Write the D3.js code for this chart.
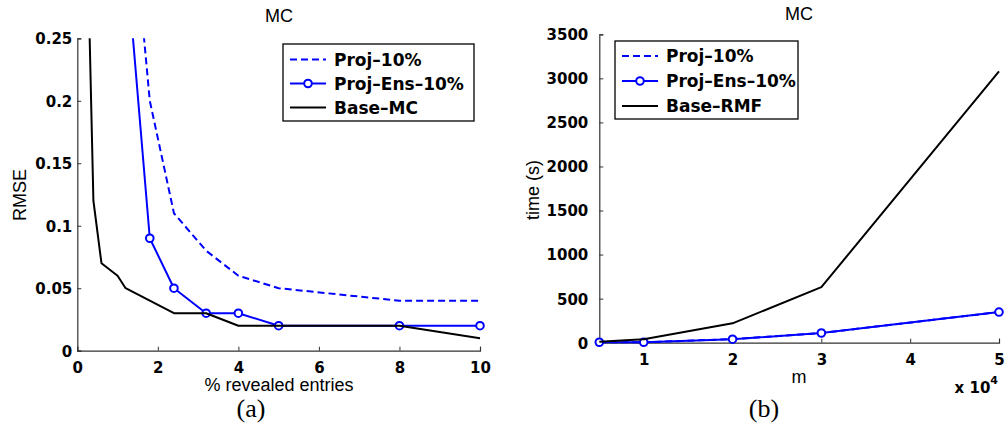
<!DOCTYPE html>
<html>
<head>
<meta charset="utf-8">
<script src="https://cdn.jsdelivr.net/npm/d3@7/dist/d3.min.js"></script>
<style>
  html, body { margin: 0; padding: 0; background: #fff; }
  svg { display: block; }
  .tick-label { font-family: "DejaVu Sans", sans-serif; font-weight: bold; font-size: 15px; fill: #000; }
  .legend-text { font-family: "DejaVu Sans", sans-serif; font-weight: bold; font-size: 17px; fill: #000; }
  .axis-label { font-family: "Liberation Sans", Arial, sans-serif; font-size: 18px; fill: #000; }
  .caption { font-family: "Liberation Serif", "Times New Roman", serif; font-size: 26px; fill: #000; }
</style>
</head>
<body>
<div id="chart"></div>
<script>
// panel (a): RMSE vs % revealed entries
const pctProj = [1.2, 1.8, 2.4, 3.2, 4, 5, 8, 10];
const rmseProj = [0.41, 0.2, 0.11, 0.08, 0.06, 0.05, 0.04, 0.04];
const pctEns = [1.2, 1.8, 2.4, 3.2, 4, 5, 8, 10];
const rmseEns = [0.32, 0.09, 0.05, 0.03, 0.03, 0.02, 0.02, 0.02];
const pctBase = [0.3, 0.4, 0.6, 1, 1.2, 2.4, 3.2, 4, 5, 8, 10];
const rmseBase = [0.26, 0.12, 0.07, 0.06, 0.05, 0.03, 0.03, 0.02, 0.02, 0.02, 0.01];
const pctTicks = [0, 2, 4, 6, 8, 10];
const rmseTicks = [0, 0.05, 0.1, 0.15, 0.2, 0.25];
const legendA = ['Proj\u201310%', 'Proj\u2013Ens\u201310%', 'Base\u2013MC'];

// panel (b): time vs m (x 10^4)
const mVals = [0.5, 1, 2, 3, 5];
const timeProj = [5, 5, 40, 110, 348];
const timeEns = [5, 5, 40, 110, 348];
const timeBase = [12, 40, 220, 630, 3080];
const mTicks = [1, 2, 3, 4, 5];
const timeTicks = [0, 500, 1000, 1500, 2000, 2500, 3000, 3500];
const legendB = ['Proj\u201310%', 'Proj\u2013Ens\u201310%', 'Base\u2013RMF'];

const BLUE = '#0000ff';
const BLACK = '#000000';

const svg = d3.select('#chart').append('svg')
  .attr('width', 1007)
  .attr('height', 434);

function drawPanel(p) {
  const x = d3.scaleLinear().domain(p.xDomain).range([p.left, p.right]);
  const y = d3.scaleLinear().domain(p.yDomain).range([p.bottom, p.top]);
  const g = svg.append('g');

  g.append('clipPath').attr('id', p.id + '-clip')
    .append('rect')
    .attr('x', p.left - 6).attr('y', p.top)
    .attr('width', p.right - p.left + 12).attr('height', p.bottom - p.top + 6);

  // axes (box off, ticks inward)
  const xAxis = d3.axisBottom(x).tickValues(p.xTicks).tickSize(-4).tickPadding(8)
    .tickFormat(p.xFormat);
  const yAxis = d3.axisLeft(y).tickValues(p.yTicks).tickSize(-4).tickPadding(p.yPad)
    .tickFormat(p.yFormat);

  const gx = g.append('g').attr('transform', `translate(0,${p.bottom})`).call(xAxis);
  const gy = g.append('g').attr('transform', `translate(${p.left},0)`).call(yAxis);
  [gx, gy].forEach(a => {
    a.select('.domain').attr('stroke', '#333').attr('stroke-width', 1.2);
    a.selectAll('.tick line').attr('stroke', '#333').attr('stroke-width', 1);
    a.selectAll('.tick text').attr('class', 'tick-label').attr('font-family', null).attr('font-size', null);
  });
  gx.selectAll('.tick text').attr('dy', '0.95em');
  gy.selectAll('.tick text').attr('dy', '0.36em');
  gx.attr('font-family', null).attr('font-size', null);
  gy.attr('font-family', null).attr('font-size', null);

  const plot = g.append('g').attr('clip-path', `url(#${p.id}-clip)`);
  const line = d3.line().x(d => x(d[0])).y(d => y(d[1]));

  p.series.forEach(s => {
    const pts = s.xs.map((v, i) => [v, s.ys[i]]);
    plot.append('path')
      .datum(pts)
      .attr('d', line)
      .attr('fill', 'none')
      .attr('stroke', s.color)
      .attr('stroke-width', 2)
      .attr('stroke-dasharray', s.dash || null)
      .attr('stroke-linejoin', 'round');
    if (s.marker) {
      plot.selectAll(null)
        .data(pts)
        .join('circle')
        .attr('cx', d => x(d[0]))
        .attr('cy', d => y(d[1]))
        .attr('r', 3.8)
        .attr('fill', '#fff')
        .attr('stroke', s.color)
        .attr('stroke-width', 2);
    }
  });

  // title and labels
  g.append('text').attr('class', 'axis-label').attr('text-anchor', 'middle')
    .attr('x', p.titleX).attr('y', p.titleY).text('MC');
  g.append('text').attr('class', 'axis-label').attr('text-anchor', 'middle')
    .attr('x', p.titleX).attr('y', p.xLabelY).text(p.xLabel);
  g.append('text').attr('class', 'axis-label').attr('text-anchor', 'middle')
    .attr('transform', `translate(${p.yLabelX},${p.yLabelY}) rotate(-90)`)
    .attr('dy', '0.35em')
    .text(p.yLabel);
  g.append('text').attr('class', 'caption').attr('text-anchor', 'middle')
    .attr('x', p.captionX).attr('y', 417).text(p.caption);

  // legend
  const lg = g.append('g');
  lg.append('rect')
    .attr('x', p.legend.x).attr('y', p.legend.y)
    .attr('width', p.legend.w).attr('height', p.legend.h)
    .attr('fill', '#fff').attr('stroke', '#000').attr('stroke-width', 1.3);
  p.series.forEach((s, i) => {
    const cy = p.legend.y + p.legend.row0 + i * p.legend.step;
    const x0 = p.legend.x + 7, x1 = x0 + 36;
    lg.append('line')
      .attr('x1', x0).attr('x2', x1).attr('y1', cy).attr('y2', cy)
      .attr('stroke', s.color).attr('stroke-width', 2)
      .attr('stroke-dasharray', s.dash || null);
    if (s.marker) {
      lg.append('circle').attr('cx', (x0 + x1) / 2).attr('cy', cy).attr('r', 3.8)
        .attr('fill', '#fff').attr('stroke', s.color).attr('stroke-width', 2);
    }
    lg.append('text').attr('class', 'legend-text')
      .attr('x', x1 + 8).attr('y', cy).attr('dy', '0.36em')
      .text(p.legendNames[i]);
  });

  return g;
}

drawPanel({
  id: 'pa',
  left: 77.3, right: 480, top: 38.3, bottom: 350.7,
  xDomain: [0, 10], yDomain: [0, 0.25],
  xTicks: pctTicks, yTicks: rmseTicks,
  xFormat: d3.format('d'), yFormat: d => String(+d.toFixed(2)),
  yPad: 5,
  series: [
    { xs: pctProj, ys: rmseProj, color: BLUE, dash: '7,4' },
    { xs: pctEns, ys: rmseEns, color: BLUE, marker: true },
    { xs: pctBase, ys: rmseBase, color: BLACK }
  ],
  legendNames: legendA,
  legend: { x: 283, y: 44, w: 191, h: 77, row0: 15.5, step: 24 },
  titleX: 279, titleY: 22, xLabel: '% revealed entries', xLabelY: 391,
  yLabel: 'RMSE', yLabelX: 20, yLabelY: 195,
  caption: '(a)', captionX: 251
});

const gb = drawPanel({
  id: 'pb',
  left: 599.3, right: 999, top: 34.3, bottom: 342.7,
  xDomain: [0.5, 5], yDomain: [0, 3500],
  xTicks: mTicks, yTicks: timeTicks,
  xFormat: d3.format('d'), yFormat: d3.format('d'),
  yPad: 11,
  series: [
    { xs: mVals, ys: timeProj, color: BLUE, dash: '7,4' },
    { xs: mVals, ys: timeEns, color: BLUE, marker: true },
    { xs: mVals, ys: timeBase, color: BLACK }
  ],
  legendNames: legendB,
  legend: { x: 615, y: 41, w: 183, h: 78, row0: 15, step: 25 },
  titleX: 799, titleY: 20, xLabel: 'm', xLabelY: 383,
  yLabel: 'time (s)', yLabelX: 533, yLabelY: 190,
  caption: '(b)', captionX: 764
});

// exponent label for the m axis
const expo = gb.append('text').attr('class', 'tick-label').attr('text-anchor', 'end')
  .attr('x', 998).attr('y', 393);
expo.append('tspan').text('x 10');
expo.append('tspan').attr('dy', -9).attr('font-size', 11).text('4');
</script>
</body>
</html>
